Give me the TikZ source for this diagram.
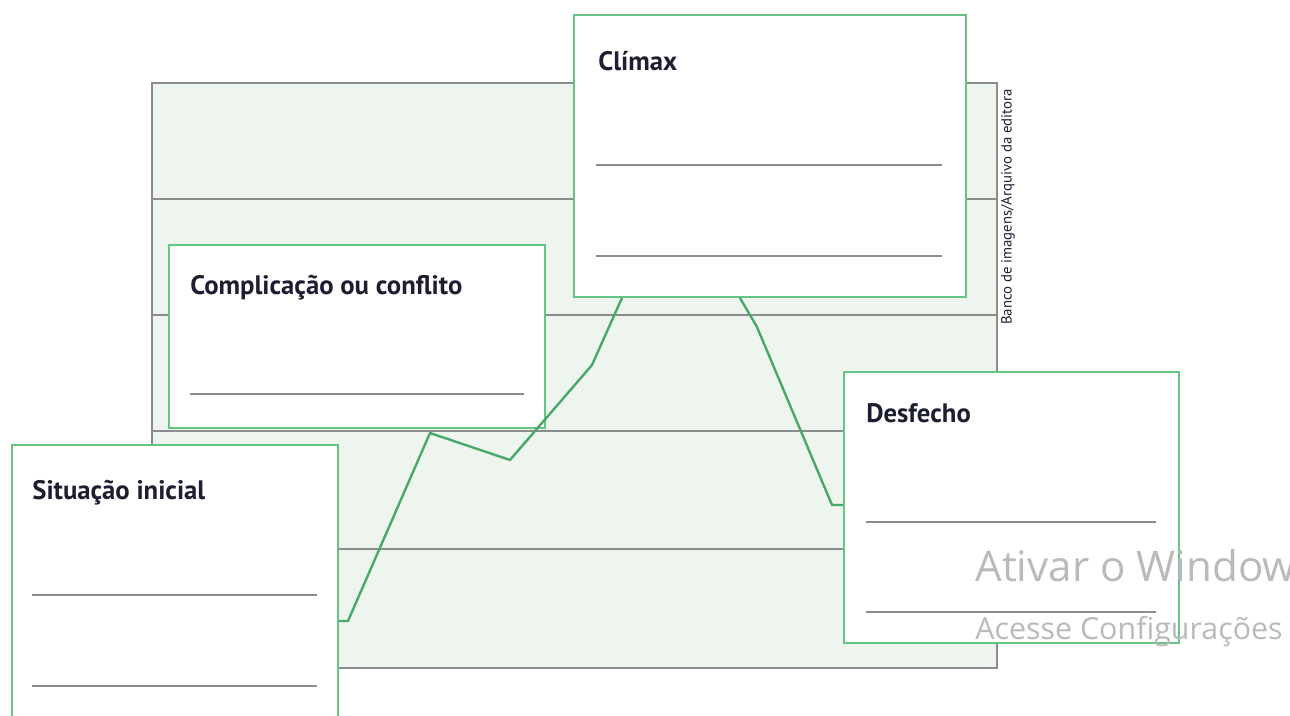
\documentclass[tikz,border=0pt]{standalone}
\usepackage{fontspec}
\usepackage{xcolor}
\usetikzlibrary{positioning,calc,fit}

\newfontfamily\titlefont{PT Sans}
\newfontfamily\winfont{Open Sans}

\definecolor{boxgreen}{RGB}{102,196,132}
\definecolor{linegreen}{RGB}{72,168,104}
\definecolor{chartfill}{RGB}{237,245,238}
\definecolor{rulegray}{RGB}{140,140,142}
\definecolor{inkblue}{RGB}{30,30,50}

\begin{document}
\begin{tikzpicture}[
    x=0.2mm, y=-0.2mm,
    chart/.style={rectangle, draw=rulegray, fill=chartfill, line width=1.1pt, inner sep=0pt},
    stagebox/.style={rectangle, draw=boxgreen, fill=white, line width=1.1pt, inner sep=0pt},
    title/.style={anchor=base west, inner sep=0pt, font=\titlefont\bfseries\fontsize{15.2}{18}\selectfont, text=inkblue},
    rule/.style={draw=rulegray, line width=1.1pt},
    plot/.style={draw=linegreen, line width=1.35pt, line join=round},
    credit/.style={rotate=90, inner sep=0pt, font=\titlefont\fontsize{8.4}{9}\selectfont, text=inkblue},
    watermark/.style={anchor=base west, inner sep=0pt, text=black!27}
]
\useasboundingbox (0,0) rectangle (1290,716);

% Chart area in the background
\node[chart, fit={(152,83) (997,668)}] (bg) {};
\foreach \y in {199,315,431,549}
    \draw[rule] (bg.west |- 0,\y) -- (bg.east |- 0,\y);
\node[credit] (src) at (1008,207) {Banco de imagens/Arquivo da editora};

% Bend points of the plot line
\coordinate (p1) at (348,621);
\coordinate (p2) at (430,433);
\coordinate (p3) at (510,460);
\coordinate (p4) at (592,365);
\coordinate (p5) at (613,318);
\coordinate (p6) at (622,297);
\coordinate (q1) at (740,297);
\coordinate (q2) at (757,327);
\coordinate (q3) at (832,505);

% Stage boxes
\node[stagebox, fit={(12,445) (338,740)}] (sit) {};
\node[stagebox, fit={(169,245) (545,428)}] (comp) {};
\node[stagebox, fit={(574,15) (966,297)}] (clim) {};
\node[stagebox, fit={(844,372) (1179,643)}] (desf) {};

% Plot line
\draw[plot] (sit.east |- p1) -- (p1) -- (p2) -- (p3) -- (p4) -- (p5) -- (clim.south -| p6);
\draw[plot] (clim.south -| q1) -- (q2) -- (q3) -- (desf.west |- q3);

% Titles
\node[title] (sit-t) at (32,500) {Situação inicial};
\node[title] (comp-t) at (190,295) {Complicação ou conflito};
\node[title] (clim-t) at (598,71) {Clímax};
\node[title] (desf-t) at (866,423) {Desfecho};

% Writing lines
\draw[rule] (32,595) -- (317,595);
\draw[rule] (32,686) -- (317,686);
\draw[rule] (190,394) -- (524,394);
\draw[rule] (596,165) -- (942,165);
\draw[rule] (596,256) -- (942,256);
\draw[rule] (866,522) -- (1156,522);
\draw[rule] (866,612) -- (1156,612);

% Watermark
\node[watermark, font=\winfont\fontsize{24}{28}\selectfont] (win1) at (975,582) {Ativar o Windows};
\node[watermark, font=\winfont\fontsize{17.3}{20}\selectfont] (win2) at (975,640) {Acesse Configurações};

\end{tikzpicture}
\end{document}
